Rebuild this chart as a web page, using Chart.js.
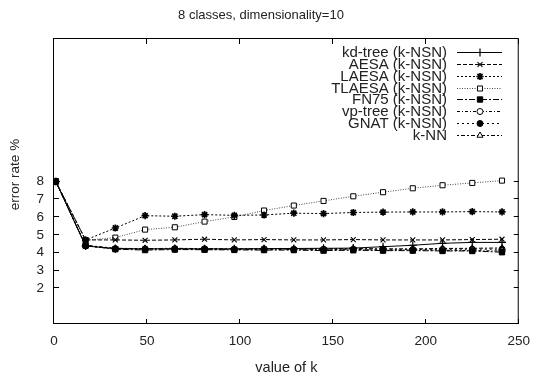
<!DOCTYPE html>
<html><head><meta charset="utf-8">
<script src="https://cdn.jsdelivr.net/npm/chart.js@4/dist/chart.umd.min.js"></script>
<style>html,body{margin:0;padding:0;background:#fff}#wrap{width:539px;height:377px}</style>
</head><body><div id="wrap"><canvas id="c" width="539" height="377"></canvas></div>
<script>
const TITLE = '8 classes, dimensionality=10';
const X_TITLE = 'value of k';
const Y_TITLE = 'error rate %';
const K_VALUES = [1, 17, 33, 49, 65, 81, 97, 113, 129, 145, 161, 177, 193, 209, 225, 241];
const X_TICKS = [0, 50, 100, 150, 200, 250];
const Y_TICKS = [2, 3, 4, 5, 6, 7, 8];
const SERIES_NAMES = ['kd-tree (k-NSN)', 'AESA (k-NSN)', 'LAESA (k-NSN)', 'TLAESA (k-NSN)', 'FN75 (k-NSN)', 'vp-tree (k-NSN)', 'GNAT (k-NSN)', 'k-NN'];
const KD_TREE = [8, 4.38, 4.23, 4.22, 4.22, 4.22, 4.22, 4.23, 4.24, 4.25, 4.26, 4.34, 4.42, 4.53, 4.58, 4.58];
const AESA    = [8, 4.72, 4.72, 4.70, 4.72, 4.76, 4.72, 4.74, 4.72, 4.72, 4.74, 4.72, 4.72, 4.72, 4.74, 4.76];
const LAESA   = [8, 4.72, 5.39, 6.08, 6.05, 6.14, 6.10, 6.12, 6.22, 6.20, 6.26, 6.28, 6.29, 6.29, 6.31, 6.29];
const TLAESA  = [8, 4.70, 4.85, 5.30, 5.43, 5.75, 6.01, 6.37, 6.65, 6.91, 7.17, 7.40, 7.62, 7.79, 7.92, 8.05];
const FN75    = [8, 4.40, 4.20, 4.15, 4.18, 4.17, 4.16, 4.15, 4.15, 4.12, 4.14, 4.12, 4.12, 4.10, 4.10, 4.03];
const VP_TREE = [8, 4.38, 4.22, 4.20, 4.21, 4.20, 4.18, 4.19, 4.18, 4.17, 4.18, 4.15, 4.15, 4.14, 4.12, 4.10];
const GNAT    = [8, 4.40, 4.23, 4.22, 4.23, 4.22, 4.20, 4.22, 4.20, 4.20, 4.20, 4.20, 4.18, 4.19, 4.20, 4.20];
const K_NN    = [8, 4.42, 4.25, 4.23, 4.25, 4.23, 4.22, 4.23, 4.22, 4.22, 4.24, 4.22, 4.22, 4.24, 4.25, 4.27];

const SERIES = [KD_TREE, AESA, LAESA, TLAESA, FN75, VP_TREE, GNAT, K_NN];
const STYLES = [
  {dash: [], ps: 'cross', r: 4, fill: '#000', line: '#000', bw: 1.2},
  {dash: [4, 2], ps: 'crossRot', r: 3.5, fill: '#000', line: '#000', bw: 1.1},
  {dash: [2, 2], ps: 'star', r: 3.6, fill: '#000', line: '#000', bw: 1.7},
  {dash: [1, 1.5], ps: 'rect', r: 3.6, fill: '#fff', line: '#444', bw: 1},
  {dash: [6, 2, 2, 2], ps: 'rect', r: 3.8, fill: '#000', line: '#000', bw: 1},
  {dash: [3, 2, 1, 2], ps: 'circle', r: 3, fill: '#fff', line: '#000', bw: 1},
  {dash: [2, 3], ps: 'circle', r: 3, fill: '#000', line: '#000', bw: 1},
  {dash: [2, 2, 4, 2], ps: 'triangle', r: 3.5, fill: '#fff', line: '#000', bw: 1}
];
const FONT = "'Liberation Sans', Arial, sans-serif";

const datasets = SERIES.map((vals, i) => ({
  label: SERIES_NAMES[i],
  data: K_VALUES.map((k, j) => ({x: k, y: vals[j]})),
  borderColor: STYLES[i].line,
  borderWidth: 1,
  borderDash: STYLES[i].dash,
  pointStyle: STYLES[i].ps,
  pointRadius: STYLES[i].r,
  pointBorderWidth: STYLES[i].bw,
  pointBorderColor: '#000',
  pointBackgroundColor: STYLES[i].fill,
  tension: 0,
  fill: false
}));

function drawMarker(ctx, st, x, y) {
  const H = Chart.helpers;
  ctx.save();
  ctx.setLineDash([]);
  ctx.strokeStyle = '#000';
  ctx.fillStyle = st.fill;
  ctx.lineWidth = st.bw;
  if (H && H.drawPoint) {
    H.drawPoint(ctx, {pointStyle: st.ps, rotation: 0, radius: st.r, borderWidth: st.bw}, x, y);
  }
  ctx.restore();
}

const framePlugin = {
  id: 'frame',
  afterDatasetsDraw(chart) {
    const {ctx, chartArea: a, scales} = chart;
    ctx.save();
    ctx.strokeStyle = '#000';
    ctx.lineWidth = 1;
    ctx.setLineDash([]);
    ctx.strokeRect(a.left - 0.5, a.top - 0.5, a.right - a.left, a.bottom - a.top);
    ctx.beginPath();
    X_TICKS.forEach(v => {
      const px = Math.round(scales.x.getPixelForValue(v)) - 0.5;
      ctx.moveTo(px, a.bottom); ctx.lineTo(px, a.bottom - 5);
      ctx.moveTo(px, a.top); ctx.lineTo(px, a.top + 5);
    });
    Y_TICKS.forEach(v => {
      const py = Math.round(scales.y.getPixelForValue(v)) - 0.5;
      ctx.moveTo(a.left, py); ctx.lineTo(a.left + 5, py);
      ctx.moveTo(a.right, py); ctx.lineTo(a.right - 5, py);
    });
    ctx.stroke();

    // y axis title
    ctx.save();
    ctx.fillStyle = '#222';
    ctx.font = '13.5px ' + FONT;
    ctx.textAlign = 'center';
    ctx.textBaseline = 'middle';
    ctx.translate(15, (a.top + a.bottom) / 2 - 7);
    ctx.rotate(-Math.PI / 2);
    ctx.fillText(Y_TITLE, 0, 0);
    ctx.restore();

    // legend
    ctx.font = '15px ' + FONT;
    ctx.textAlign = 'right';
    ctx.textBaseline = 'middle';
    ctx.fillStyle = '#222';
    chart.data.datasets.forEach((ds, i) => {
      const y = Math.round(52.3 + i * 11.75) + 0.5;
      ctx.fillText(ds.label, 447, y + 0.5);
      ctx.save();
      ctx.strokeStyle = ds.borderColor;
      ctx.lineWidth = 1;
      ctx.setLineDash(ds.borderDash);
      ctx.beginPath();
      ctx.moveTo(457, y); ctx.lineTo(502, y);
      ctx.stroke();
      ctx.restore();
      drawMarker(ctx, STYLES[i], 480, y);
    });
    ctx.restore();
  }
};

new Chart(document.getElementById('c'), {
  type: 'line',
  data: {datasets},
  plugins: [framePlugin],
  options: {
    responsive: false,
    animation: false,
    devicePixelRatio: 1,
    layout: {padding: {left: 0, right: 17, top: 0, bottom: 0}},
    plugins: {
      legend: {display: false},
      tooltip: {enabled: false},
      title: {
        display: true,
        text: TITLE,
        color: '#222',
        font: {family: FONT, size: 13, weight: 'normal'},
        padding: {top: 8, bottom: 15.4}
      }
    },
    scales: {
      x: {
        type: 'linear',
        min: 0, max: 250,
        afterBuildTicks: s => { s.ticks = X_TICKS.map(v => ({value: v})); },
        afterFit: s => { s.height = 53; },
        ticks: {color: '#222', font: {family: FONT, size: 13.5}, padding: 9, maxRotation: 0, autoSkip: false},
        grid: {display: false, drawTicks: false},
        border: {display: false},
        title: {display: true, text: X_TITLE, color: '#222', font: {family: FONT, size: 14.5}, padding: {top: 0, bottom: 0.5}}
      },
      y: {
        type: 'linear',
        min: 0, max: 16,
        afterBuildTicks: s => { s.ticks = Y_TICKS.map(v => ({value: v})); },
        afterFit: s => { s.width = 54; },
        ticks: {color: '#222', font: {family: FONT, size: 13.5}, padding: 10, autoSkip: false},
        grid: {display: false, drawTicks: false},
        border: {display: false}
      }
    }
  }
});
</script>
</body></html>
